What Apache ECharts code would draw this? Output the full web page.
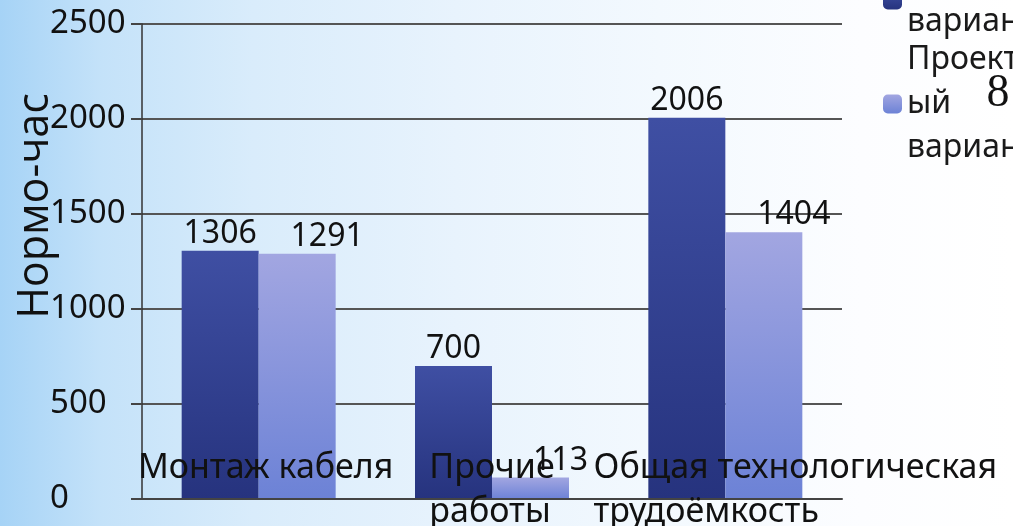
<!DOCTYPE html>
<html>
<head>
<meta charset="utf-8">
<script src="https://cdn.jsdelivr.net/npm/echarts@6/dist/echarts.min.js"></script>
<style>
html,body{margin:0;padding:0;width:1013px;height:526px;overflow:hidden;}
body{background:linear-gradient(90deg,#a6d3f6 0%,#c4e2f9 10%,#d9ecfb 25%,#e8f3fd 45%,#f3f9fe 65%,#fcfdff 85%,#ffffff 100%);}
#chart{width:1013px;height:526px;}
</style>
</head>
<body>
<div id="chart"></div>
<script>
// ---- data ----
var categories = ['Монтаж кабеля', 'Прочие\nработы', 'Общая технологическая\nтрудоёмкость'];
var seriesNames = ['Базовый вариант', 'Проектный вариант'];
var legendLabels = ['Базовый\nвариант', 'Проектн\nый\nвариант'];
var baseValues = [1306, 700, 2006];
var projectValues = [1291, 113, 1404];
var yTicks = { min: 0, max: 2500, interval: 500 };
var yAxisTitle = 'Нормо-час';
var slideNumber = '8';

// ---- styles ----
var labelShift = [14, 0, 140];
var FONT = 'Noto Sans';

var chart = echarts.init(document.getElementById('chart'), null, { renderer: 'canvas' });

var xData = categories.map(function (c, i) {
  return { value: c, textStyle: { padding: [0, 0, 0, labelShift[i]] } };
});

function grad(top, bottom) {
  return new echarts.graphic.LinearGradient(0, 0, 0, 1, [
    { offset: 0, color: top }, { offset: 1, color: bottom }
  ]);
}

var legendText = { fontFamily: FONT, fontSize: 32, color: '#1a1a1a', lineHeight: 44 };

var option = {
  backgroundColor: 'transparent',
  animation: false,
  grid: { left: 142, right: 171, top: 24, bottom: 27, containLabel: false, outerBoundsMode: 'none' },
  legend: [
    {
      data: [seriesNames[0]], orient: 'vertical', left: 883, top: -44, padding: 0,
      itemWidth: 19, itemHeight: 19, itemGap: 0,
      formatter: function () { return legendLabels[0]; },
      textStyle: legendText
    },
    {
      data: [seriesNames[1]], orient: 'vertical', left: 883, top: 38, padding: 0,
      itemWidth: 19, itemHeight: 19, itemGap: 0,
      formatter: function () { return legendLabels[1]; },
      textStyle: legendText
    }
  ],
  xAxis: {
    type: 'category',
    data: xData,
    axisLine: { show: true, lineStyle: { color: '#444', width: 2 } },
    axisTick: { show: false },
    axisLabel: {
      interval: 0,
      margin: -53,
      color: '#111',
      fontFamily: FONT,
      fontSize: 34,
      lineHeight: 44,
      formatter: function (v) {
        return v.split('\n').map(function (s) { return '{l|' + s + '}'; }).join('\n');
      },
      rich: { l: { align: 'left', fontFamily: FONT, fontSize: 34, lineHeight: 44, color: '#111' } }
    },
    z: 5
  },
  yAxis: {
    type: 'value',
    min: yTicks.min, max: yTicks.max, interval: yTicks.interval,
    axisLine: { show: true, lineStyle: { color: '#333', width: 1.5 } },
    axisTick: { show: true, length: 11, lineStyle: { color: '#444', width: 2 } },
    splitLine: { show: true, lineStyle: { color: '#555', width: 2 } },
    axisLabel: {
      align: 'left', margin: 92, color: '#111', fontFamily: FONT, fontSize: 33,
      formatter: function (v) { return String(v); }
    }
  },
  graphic: [
    {
      type: 'text', x: 36, y: 206, rotation: Math.PI / 2,
      style: { text: yAxisTitle, font: '43px "Open Sans"', fill: '#111', align: 'center', verticalAlign: 'middle' }
    },
    {
      type: 'text', x: 998, y: 94,
      style: { text: slideNumber, font: '46px "Liberation Serif"', fill: '#111', align: 'center', verticalAlign: 'middle' }
    }
  ],
  series: [
    {
      name: seriesNames[0], type: 'bar', data: baseValues,
      barGap: '0%', barCategoryGap: '34%',
      itemStyle: { color: grad('#3f4fa3', '#26337e') },
      label: { show: true, position: 'top', distance: 1, color: '#111', fontFamily: FONT, fontSize: 32 }
    },
    {
      name: seriesNames[1], type: 'bar', data: projectValues,
      barGap: '0%', barCategoryGap: '34%',
      itemStyle: { color: grad('#a2a6e1', '#6c82d6') },
      label: { show: true, position: 'top', distance: 1, offset: [30, 0], color: '#111', fontFamily: FONT, fontSize: 32 }
    }
  ]
};
chart.setOption(option);
</script>
</body>
</html>
